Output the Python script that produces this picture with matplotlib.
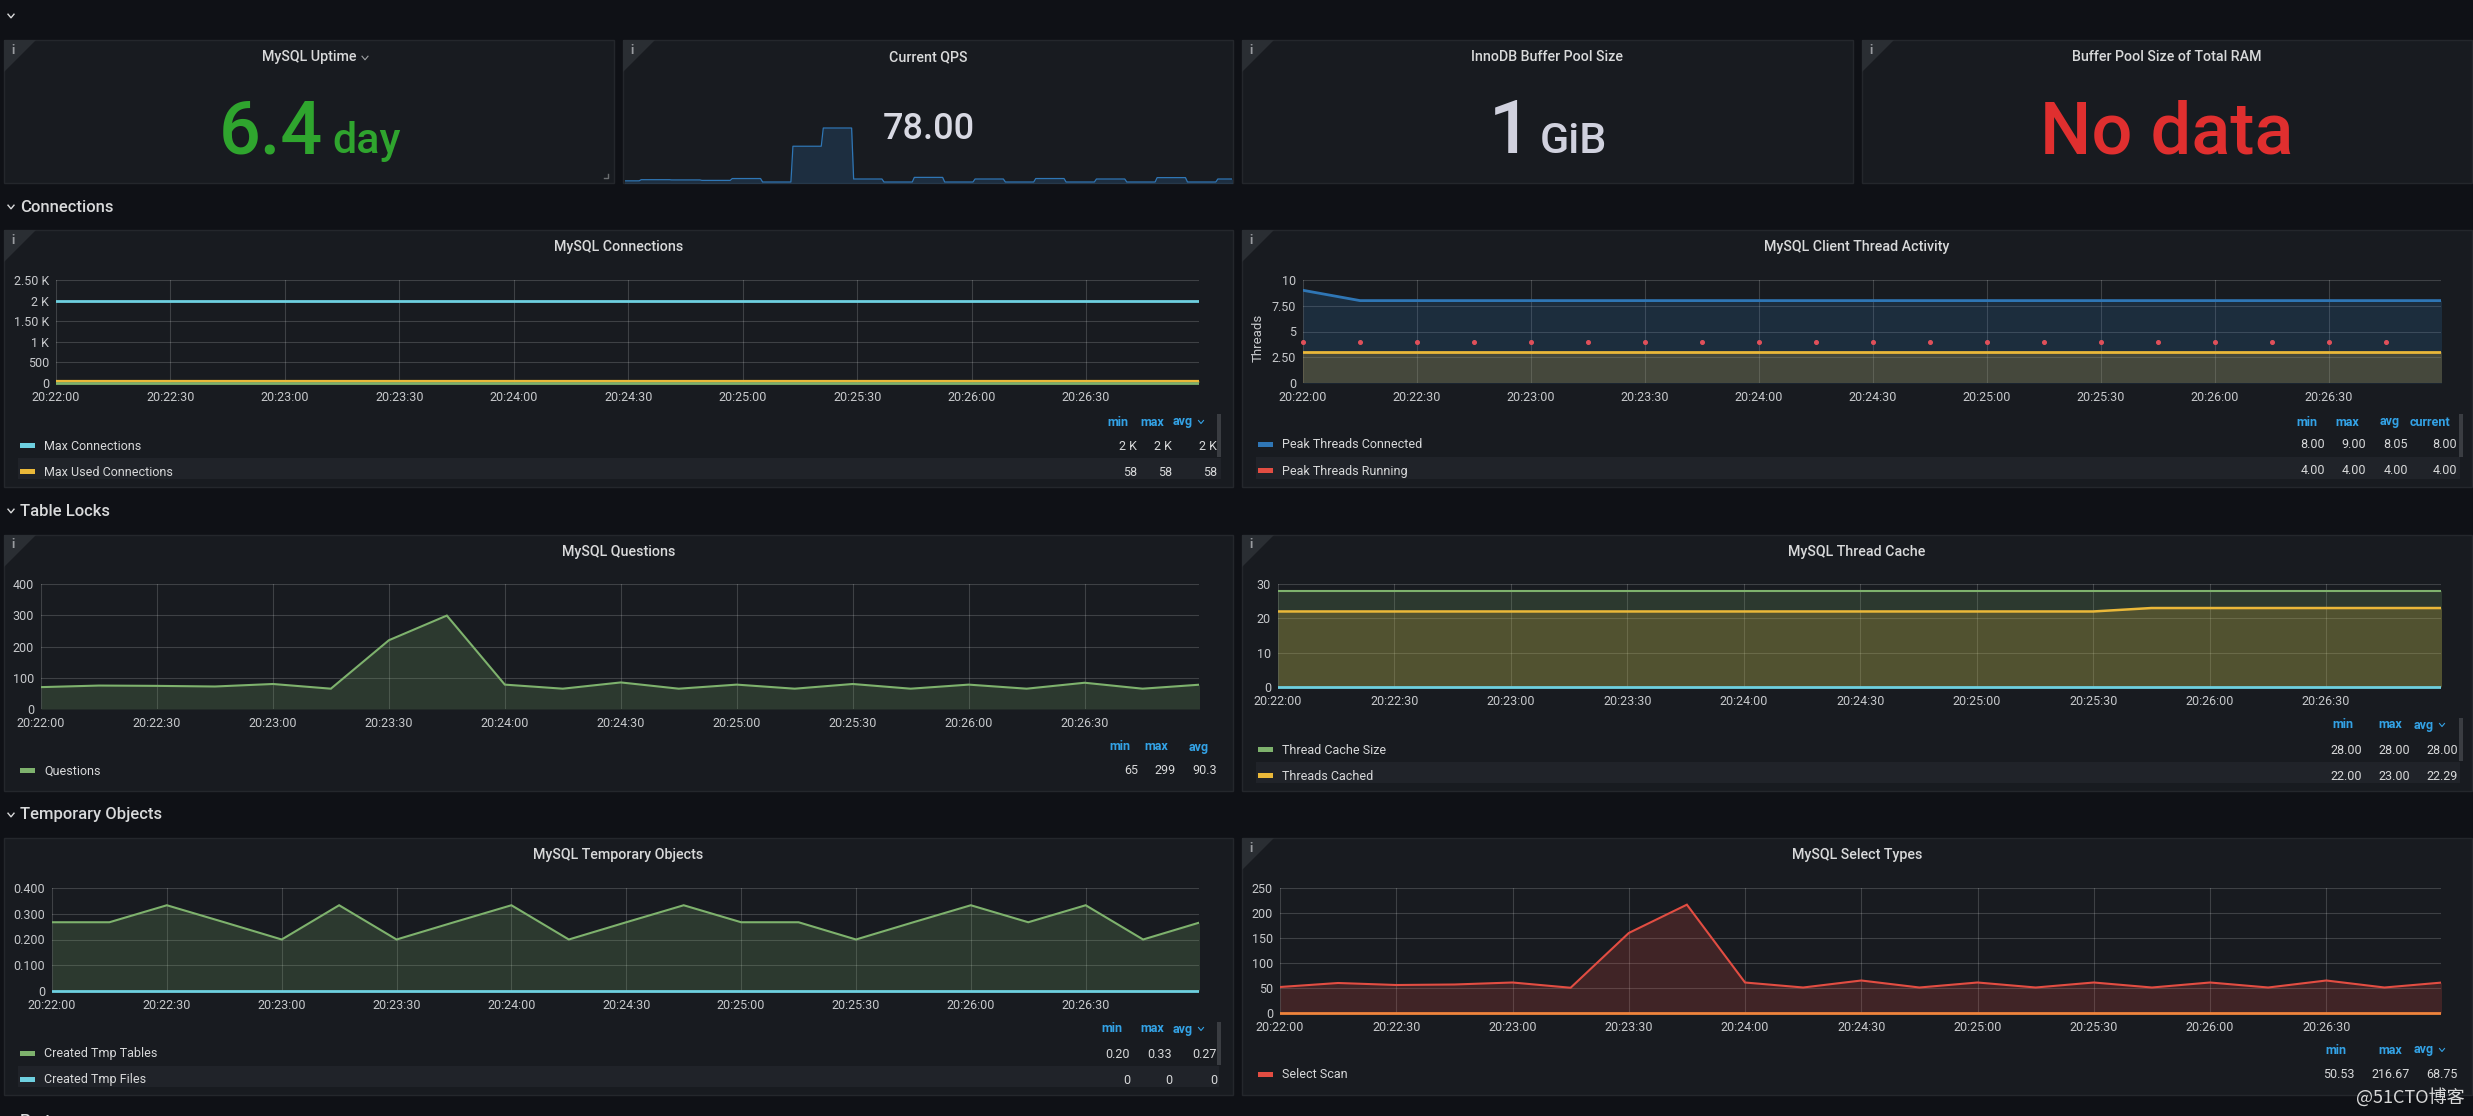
import matplotlib
matplotlib.use("Agg")
import matplotlib.pyplot as plt
import numpy as np

plt.rcParams['font.family'] = ['Roboto', 'DejaVu Sans']

W, H = 2473, 1116

BG = "#0f1116"
PANEL = "#181b20"
BORDER = "#24272c"
TEXT = "#d8d9da"
TICK = "#c7c9cc"
BLUE_HEAD = "#33a2e5"
CYAN = "#6ed0e0"
YELLOW = "#eab839"
GREEN = "#7eb26d"
BLUE = "#2f76b5"
RED = "#e24d42"
ORANGE = "#ef843c"

# data, one point every 15 s
seconds = np.arange(0, 301, 15)
tick_seconds = np.arange(0, 271, 30)
time_labels = ["20:22:00", "20:22:30", "20:23:00", "20:23:30", "20:24:00",
               "20:24:30", "20:25:00", "20:25:30", "20:26:00", "20:26:30"]

questions = [70, 75, 74, 72, 80, 65, 220, 299, 78, 65, 85, 65, 78, 65, 80, 65, 78, 65, 84, 65, 78]
max_connections = [2000] * 21
max_used = [58] * 21
low_connections = [0] * 21
threads_connected = [9, 8, 8, 8, 8, 8, 8, 8, 8, 8, 8, 8, 8, 8, 8, 8, 8, 8, 8, 8, 8]
threads_running = [4] * 20
threads_yellow = [3] * 21
cache_size = [28] * 21
threads_cached = [22] * 15 + [23] * 6
threads_created = [0] * 21
tmp_tables = [0.267, 0.267, 0.333, 0.267, 0.2, 0.333, 0.2, 0.267, 0.333, 0.2, 0.267,
              0.333, 0.267, 0.267, 0.2, 0.267, 0.333, 0.267, 0.333, 0.2, 0.267]
tmp_files = [0] * 21
select_scan = [52, 60, 56, 57, 61, 50.5, 160, 216.67, 61, 51, 65, 51, 61, 51, 61, 51, 61, 51, 65, 51, 61]
select_range = [0] * 21

fig = plt.figure(figsize=(W / 100, H / 100), dpi=100, facecolor=BG)

# whole page in pixel coordinates, panels and text go on this one
page = fig.add_axes([0, 0, 1, 1])
page.set_xlim(0, W)
page.set_ylim(H, 0)
page.axis("off")


def chevron(x, y, s=3, color=TEXT, lw=1.0):
    page.plot([x - s, x, x + s], [y - s * 0.6, y + s * 0.6, y - s * 0.6], color=color, lw=lw)


def panel(x0, y0, x1, y1, title, info=True, title_x=None):
    page.add_patch(plt.Rectangle((x0, y0), x1 - x0, y1 - y0, fc=PANEL, ec=BORDER, lw=1))
    if info:
        page.add_patch(plt.Polygon([(x0, y0), (x0 + 32, y0), (x0, y0 + 32)], fc="#2a2e33", ec="none"))
        page.text(x0 + 9, y0 + 10, "i", color="#9a9da1", fontsize=9, weight="bold", ha="center", va="center")
    tx = (x0 + x1) / 2 if title_x is None else title_x
    page.text(tx, y0 + 17, title, color=TEXT, fontsize=10.3, weight="medium", ha="center", va="center")


def section(y, name):
    chevron(11, y, 3)
    page.text(20, y, name, color=TEXT, fontsize=12, weight="medium", ha="left", va="center")


def graph(box, yticks, ylabels, xlim_end=299.6):
    x0, y0, x1, y1 = box
    ax = fig.add_axes([x0 / W, 1 - y1 / H, (x1 - x0) / W, (y1 - y0) / H])
    ax.patch.set_alpha(0)
    ax.set_xlim(0, xlim_end)
    ax.set_ylim(yticks[0], yticks[-1])
    ax.set_xticks(tick_seconds)
    ax.set_xticklabels(time_labels)
    ax.set_yticks(yticks)
    ax.set_yticklabels(ylabels)
    ax.tick_params(length=0, labelsize=9, labelcolor=TICK, pad=5)
    ax.tick_params(axis="x", pad=6)
    ax.grid(True, color="#ffffff", alpha=0.17, lw=0.8)
    ax.set_axisbelow(True)
    for s in ax.spines.values():
        s.set_visible(False)
    return ax


def series(ax, values, color, fill=True, lw=1.5, clip=True):
    line, = ax.plot(seconds, values, color=color, lw=lw, solid_joinstyle="miter")
    if not clip:
        # lines sitting on the axis stay whole, but still stop at the right edge
        line.set_clip_path(plt.Rectangle((0, -0.1), 1, 1.2, transform=ax.transAxes))
    if fill:
        ax.fill_between(seconds, 0, values, color=color, alpha=0.2, lw=0)


def legend_head(y, names, centers, chev=None):
    for n, c in zip(names, centers):
        page.text(c, y, n, color=BLUE_HEAD, fontsize=9, weight="bold", ha="center", va="center")
    if chev:
        chevron(chev, y, 2.5, BLUE_HEAD, 0.8)


def legend_row(y, name, color, x_swatch, values, rights):
    page.add_patch(plt.Rectangle((x_swatch, y - 2), 15, 5, fc=color, ec="none"))
    page.text(x_swatch + 24, y + 1, name, color=TEXT, fontsize=9, ha="left", va="center")
    for v, r in zip(values, rights):
        page.text(r, y + 1, v, color=TEXT, fontsize=9, ha="right", va="center")


def row_bg(x0, x1, y0, y1):
    page.add_patch(plt.Rectangle((x0, y0), x1 - x0, y1 - y0, fc="#202329", ec="none"))


def scrollbar(x, y0, y1):
    page.add_patch(plt.Rectangle((x - 2, y0), 4, y1 - y0, fc="#3a3d42", ec="none"))


# top row
chevron(11, 16, 3)
panel(4, 40, 614, 183, "MySQL Uptime", title_x=309)
chevron(365, 58, 3, "#a0a2a5", 0.8)
panel(623, 40, 1233, 183, "Current QPS")
panel(1242, 40, 1853, 183, "InnoDB Buffer Pool Size")
panel(1862, 40, 2472, 183, "Buffer Pool Size of Total RAM")
page.plot([604, 608, 608], [178, 178, 174], color="#6a6d70", lw=1)

page.text(219, 153, "6.4", color="#2fa52e", fontsize=53, weight="medium", ha="left", va="baseline")
page.text(332, 153, "day", color="#2fa52e", fontsize=31, weight="medium", ha="left", va="baseline")
page.text(929, 139, "78.00", color="#d8d9e3", fontsize=26, weight="medium", ha="center", va="baseline")
page.text(1489, 153, "1", color="#d0d1de", fontsize=54, weight="medium", ha="left", va="baseline")
page.text(1540, 153, "GiB", color="#d0d1de", fontsize=31, weight="medium", ha="left", va="baseline")
page.text(2167, 153, "No data", color="#e02f2f", fontsize=52, weight="medium", ha="center", va="baseline")

# sparkline of the QPS panel, each value is held around its sample time
spark = fig.add_axes([625 / W, 1 - 183 / H, 607 / W, 60 / H])
spark.patch.set_alpha(0)
spark.axis("off")
spark_x = np.column_stack([seconds - 7, seconds + 7]).ravel()
spark_y = np.repeat(questions, 2)
spark.plot(spark_x, spark_y, color=BLUE, lw=0.9)
spark.fill_between(spark_x, 0, spark_y, color=BLUE, alpha=0.22, lw=0)
spark.set_xlim(0, 300)
spark.set_ylim(60.7, 320.7)

section(207, "Connections")
section(511, "Table Locks")
section(815, "Temporary Objects")
page.text(20, 1121, "Ports", color=TEXT, fontsize=12, weight="medium", ha="left", va="center")

# connections
panel(4, 230, 1233, 487, "MySQL Connections")
ax = graph((56, 280, 1199, 383), [0, 500, 1000, 1500, 2000, 2500], ["0", "500", "1 K", "1.50 K", "2 K", "2.50 K"])
series(ax, max_connections, CYAN, fill=False, lw=2)
series(ax, low_connections, GREEN, fill=False, lw=2, clip=False)
series(ax, max_used, YELLOW, lw=1.6, clip=False)
legend_head(422, ["min", "max", "avg"], [1118, 1152, 1183], 1201)
row_bg(18, 1221, 458, 479)
scrollbar(1219, 414, 457)
legend_row(445, "Max Connections", CYAN, 20, ["2 K", "2 K", "2 K"], [1137, 1172, 1217])
legend_row(471, "Max Used Connections", YELLOW, 20, ["58", "58", "58"], [1137, 1172, 1217])

# client threads
panel(1242, 230, 2472, 487, "MySQL Client Thread Activity")
ax = graph((1303, 280, 2441, 383), [0, 2.5, 5, 7.5, 10], ["0", "2.50", "5", "7.50", "10"])
series(ax, threads_connected, BLUE, lw=2)
series(ax, threads_yellow, YELLOW, lw=2)
ax.plot(seconds[:20], threads_running, ls="none", marker="o", ms=2.6, color="#e0505a", clip_on=False)
page.text(1258, 338, "Threads", color=TICK, fontsize=9.5, rotation=90, ha="center", va="center")
legend_head(422, ["min", "max", "avg", "current"], [2307, 2347, 2390, 2430])
row_bg(1256, 2460, 457, 479)
scrollbar(2461, 414, 457)
rights = [2325, 2366, 2408, 2457]
legend_row(444, "Peak Threads Connected", BLUE, 1258, ["8.00", "9.00", "8.05", "8.00"], rights)
legend_row(470, "Peak Threads Running", RED, 1258, ["4.00", "4.00", "4.00", "4.00"], rights)

# questions
panel(4, 535, 1233, 791, "MySQL Questions")
ax = graph((41, 584, 1199, 709), [0, 100, 200, 300, 400], ["0", "100", "200", "300", "400"])
series(ax, questions, GREEN)
legend_head(747, ["min", "max", "avg"], [1120, 1156, 1199])
legend_row(770, "Questions", GREEN, 20, ["65", "299", "90.3"], [1138, 1176, 1217])

# thread cache
panel(1242, 535, 2472, 791, "MySQL Thread Cache")
ax = graph((1278, 584, 2441, 687), [0, 10, 20, 30], ["0", "10", "20", "30"])
series(ax, cache_size, GREEN)
series(ax, threads_cached, YELLOW, lw=1.8)
series(ax, threads_created, CYAN, fill=False, lw=2, clip=False)
legend_head(725, ["min", "max", "avg"], [2343, 2390, 2424], 2442)
row_bg(1256, 2460, 762, 783)
scrollbar(2461, 718, 761)
rights = [2362, 2410, 2458]
legend_row(749, "Thread Cache Size", GREEN, 1258, ["28.00", "28.00", "28.00"], rights)
legend_row(775, "Threads Cached", YELLOW, 1258, ["22.00", "23.00", "22.29"], rights)

# temporary objects
panel(4, 838, 1233, 1095, "MySQL Temporary Objects", info=False)
ax = graph((52, 888, 1199, 991), [0, 0.1, 0.2, 0.3, 0.4], ["0", "0.100", "0.200", "0.300", "0.400"])
series(ax, tmp_tables, GREEN)
series(ax, tmp_files, CYAN, fill=False, lw=2, clip=False)
legend_head(1029, ["min", "max", "avg"], [1112, 1152, 1183], 1201)
row_bg(18, 1219, 1066, 1087)
scrollbar(1219, 1022, 1065)
rights = [1130, 1172, 1217]
legend_row(1053, "Created Tmp Tables", GREEN, 20, ["0.20", "0.33", "0.27"], rights)
legend_row(1079, "Created Tmp Files", CYAN, 20, ["0", "0", "0"], rights)

# select types
panel(1242, 838, 2472, 1095, "MySQL Select Types")
ax = graph((1280, 888, 2441, 1013), [0, 50, 100, 150, 200, 250], ["0", "50", "100", "150", "200", "250"])
series(ax, select_scan, RED)
series(ax, select_range, ORANGE, fill=False, lw=2, clip=False)
legend_head(1050, ["min", "max", "avg"], [2336, 2390, 2424], 2442)
legend_row(1074, "Select Scan", RED, 1258, ["50.53", "216.67", "68.75"], [2355, 2410, 2458])

page.text(2465, 1097, "@51CTO博客", color="#d8d8d8", fontsize=13, ha="right", va="center",
          family=['Noto Sans CJK SC', 'DejaVu Sans'], zorder=20)

fig.savefig("out.png", dpi=100, facecolor=BG)
